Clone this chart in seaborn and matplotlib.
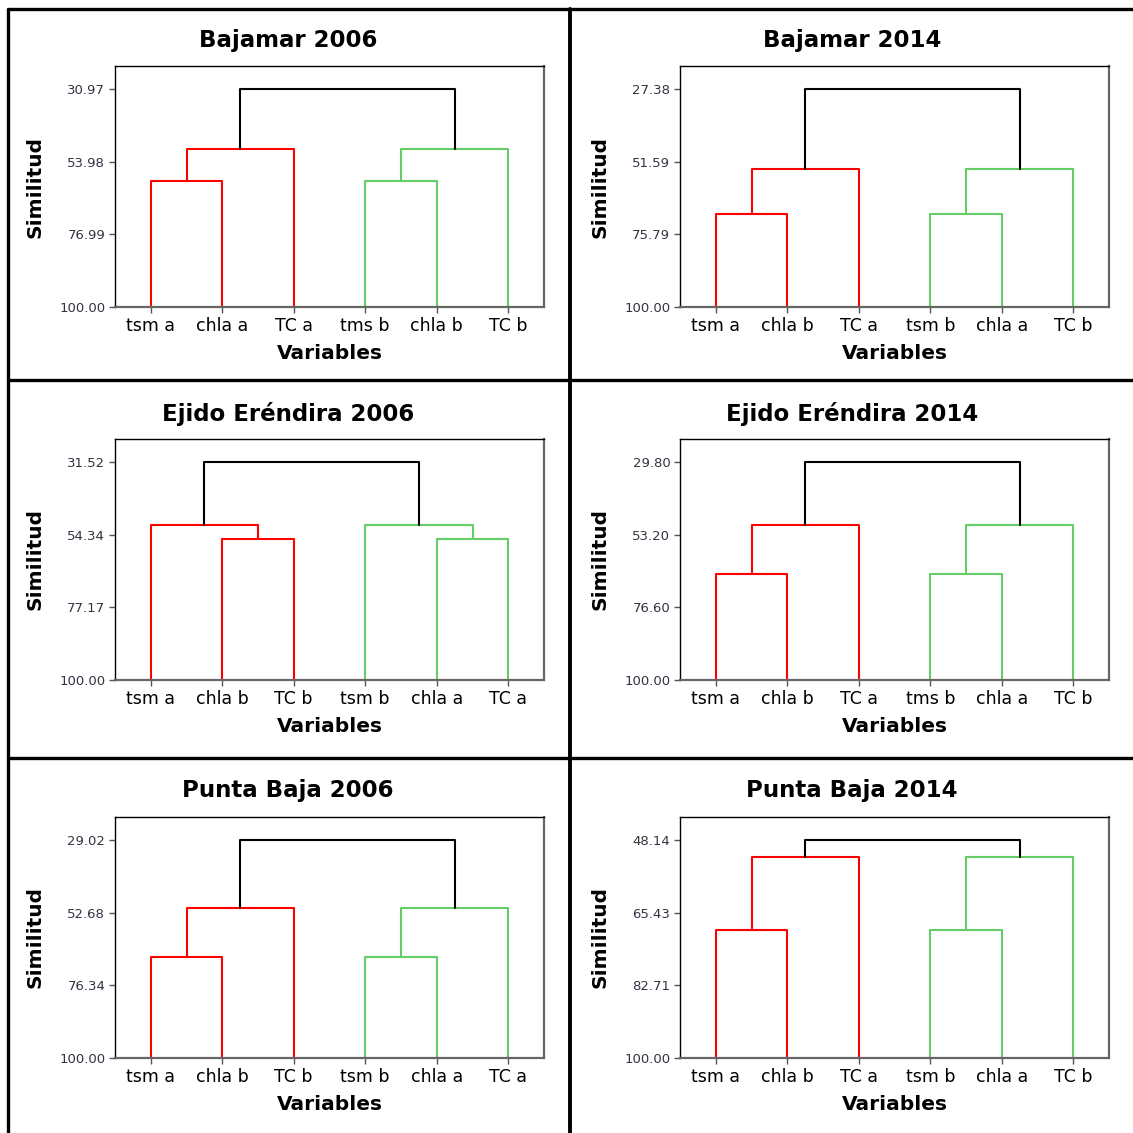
import matplotlib
matplotlib.use("Agg")
import matplotlib.pyplot as plt
from matplotlib.lines import Line2D
import seaborn as sns
import pandas as pd

sns.set_theme(style="white")
plt.rcParams['font.family'] = ['DejaVu Sans']
plt.rcParams['text.color'] = 'black'
plt.rcParams['axes.labelcolor'] = 'black'
plt.rcParams['xtick.color'] = 'black'

# ---- data ----
titles = ["Bajamar 2006", "Bajamar 2014",
          "Ejido Eréndira 2006", "Ejido Eréndira 2014",
          "Punta Baja 2006", "Punta Baja 2014"]
leaf_labels = [["tsm a", "chla a", "TC a", "tms b", "chla b", "TC b"],
               ["tsm a", "chla b", "TC a", "tsm b", "chla a", "TC b"],
               ["tsm a", "chla b", "TC b", "tsm b", "chla a", "TC a"],
               ["tsm a", "chla b", "TC a", "tms b", "chla a", "TC b"],
               ["tsm a", "chla b", "TC b", "tsm b", "chla a", "TC a"],
               ["tsm a", "chla b", "TC a", "tsm b", "chla a", "TC b"]]
ytick_labels = [["30.97", "53.98", "76.99", "100.00"],
                ["27.38", "51.59", "75.79", "100.00"],
                ["31.52", "54.34", "77.17", "100.00"],
                ["29.80", "53.20", "76.60", "100.00"],
                ["29.02", "52.68", "76.34", "100.00"],
                ["48.14", "65.43", "82.71", "100.00"]]
# similarity at which each merge happens
top_merge = [30.97, 27.38, 31.52, 29.80, 29.02, 48.14]
red_outer = [49.97, 53.92, 51.18, 50.09, 51.16, 52.11]
red_inner = [60.21, 68.91, 55.57, 65.87, 67.11, 69.63]
green_outer = [49.97, 53.92, 51.18, 50.09, 51.16, 52.11]
green_inner = [60.21, 68.91, 55.57, 65.87, 67.11, 69.63]
# which pair of the three leaves joins first in each cluster
inner_pair = ["first", "first", "last", "first", "first", "first"]


def cluster_segments(start, inner, outer, pair, name):
    """U-shaped links for a 3-leaf cluster starting at leaf position start."""
    a, b, c = start, start + 1, start + 2
    rows = []
    if pair == "first":
        links = [(a, 100, b, 100, inner), ((a + b) / 2, inner, c, 100, outer)]
        mid = ((a + b) / 2 + c) / 2
    else:
        links = [(b, 100, c, 100, inner), (a, 100, (b + c) / 2, inner, outer)]
        mid = (a + (b + c) / 2) / 2
    for k, (x1, y1, x2, y2, h) in enumerate(links):
        seg = f"{name}{k}"
        for x, y in [(x1, y1), (x1, h), (x2, h), (x2, y2)]:
            rows.append({"seg": seg, "x": x, "y": y, "grp": name})
    return rows, mid


W = H = 1133
fig = plt.figure(figsize=(11.33, 11.33), dpi=100)
palette = {"a": "#ff0000", "b": "#66cc66", "top": "black"}

col_left = [115, 680]
row_top = [66, 439, 817]
title_x = [288, 852]
title_y = [40, 414, 791]

for i in range(6):
    r, c = divmod(i, 2)
    left, top = col_left[c], row_top[r]
    ax = fig.add_axes([left / W, 1 - (top + 241) / H, 429 / W, 241 / H])

    ra, mid_a = cluster_segments(1, red_inner[i], red_outer[i], inner_pair[i], "a")
    rb, mid_b = cluster_segments(4, green_inner[i], green_outer[i], inner_pair[i], "b")
    rows = ra + rb
    for x, y in [(mid_a, red_outer[i]), (mid_a, top_merge[i]),
                 (mid_b, top_merge[i]), (mid_b, green_outer[i])]:
        rows.append({"seg": "top", "x": x, "y": y, "grp": "top"})
    df = pd.DataFrame(rows)

    sns.lineplot(data=df, x="x", y="y", units="seg", hue="grp", palette=palette,
                 estimator=None, sort=False, legend=False, linewidth=1.5, ax=ax)

    ticks = [float(t) for t in ytick_labels[i]]
    lo = ticks[0]
    ax.set_ylim(100, lo - 0.1055 * (100 - lo))
    ax.set_xlim(0.5, 6.5)
    ax.set_yticks(ticks)
    ax.set_yticklabels(ytick_labels[i], fontsize=9.5, color="#333344")
    ax.set_xticks(range(1, 7))
    ax.set_xticklabels(leaf_labels[i], fontsize=12.5, color="black")
    ax.tick_params(axis="both", which="both", length=4, width=1, color="#555555",
                   bottom=True, left=True, direction="out", pad=3)
    ax.set_xlabel("Variables", fontsize=14.5, fontweight="bold", color="black")
    ax.set_ylabel("Similitud", fontsize=14.5, fontweight="bold", color="black")
    ax.xaxis.set_label_coords(0.5, -0.155)
    ax.yaxis.set_label_coords(-0.165, 0.5)
    for side in ["top", "left"]:
        ax.spines[side].set_color("black")
        ax.spines[side].set_linewidth(1)
    for side in ["bottom", "right"]:
        ax.spines[side].set_color("#666666")
        ax.spines[side].set_linewidth(1.6)

    fig.text(title_x[c] / W, 1 - title_y[r] / H, titles[i], ha="center", va="center",
             fontsize=16.5, fontweight="bold", color="black")

# panel frame lines
def frame(x1, y1, x2, y2, lw=2.4):
    fig.add_artist(Line2D([x1 / W, x2 / W], [1 - y1 / H, 1 - y2 / H],
                          color="black", linewidth=lw, transform=fig.transFigure))

frame(8, 9, 1133, 9)
frame(8, 9, 8, 1133)
frame(569.5, 9, 569.5, 1133, lw=2.8)
frame(8, 380, 1133, 380)
frame(8, 758, 1133, 758)

fig.savefig("out.png", dpi=100)
